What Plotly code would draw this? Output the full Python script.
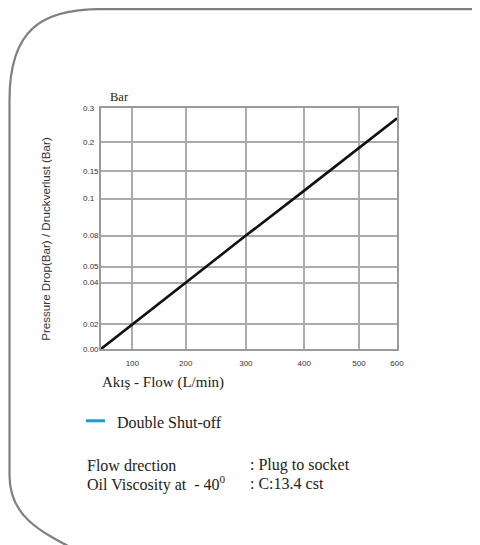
import numpy as np
import plotly.graph_objects as go

# ---- data ----
FLOW = [0, 100, 200, 300, 400, 500, 600]            # L/min
PRESSURE_DROP = [0.0, 0.02, 0.04, 0.08, 0.115, 0.19, 0.27]  # bar
SERIES_NAME = "Double Shut-off"

X_TICK_VALUES = [100, 200, 300, 400, 500, 600]
X_TICK_LABELS = ["100", "200", "300", "400", "500", "600"]
Y_TICK_VALUES = [0.0, 0.02, 0.04, 0.05, 0.08, 0.1, 0.15, 0.2, 0.3]
Y_TICK_LABELS = ["0.00", "0.02", "0.04", "0.05", "0.08", "0.1", "0.15", "0.2", "0.3"]

# ---- piecewise axis calibration of the original (non-uniform) scales ----
X_SCALE_VALS = [0, 100, 200, 300, 400, 500, 600]
X_SCALE_POS = [0, 31.3, 84.7, 144.7, 203, 257.7, 295.7]
Y_SCALE_POS = [0, 24.7, 66.3, 82.3, 113.3, 150, 177.3, 206.3, 240.7]


def xs(v):
    return np.interp(v, X_SCALE_VALS, X_SCALE_POS)


def ys(v):
    return np.interp(v, Y_TICK_VALUES, Y_SCALE_POS)


W, H = 480, 545
OFF = 8  # page body margin
L, R, T, B = 101 - OFF, 396.7 - OFF, 108.3 - OFF, 349 - OFF


def px(x):
    return (x - OFF - L) / (R - L)


def py(y):
    return (B - (y - OFF)) / (B - T)


fig = go.Figure()
fig.add_trace(go.Scatter(
    x=xs(FLOW), y=ys(PRESSURE_DROP), mode="lines", name=SERIES_NAME,
    line=dict(color="#111111", width=2.6), showlegend=False, cliponaxis=False,
))

TEXT_FONT = "Liberation Serif"
TXT = "#222222"
ann = []
# y tick labels (left-aligned as in the original)
for v, lab in zip(Y_TICK_VALUES, Y_TICK_LABELS):
    ann.append(dict(x=px(81), xref="paper", y=ys(v), yref="y", text=lab,
                    showarrow=False, xanchor="left", yanchor="middle",
                    font=dict(family="Liberation Sans", size=8, color="#333333")))
ann.append(dict(x=px(107.5), y=py(97.5), xref="paper", yref="paper", text="Bar",
                showarrow=False, xanchor="left", yanchor="middle",
                font=dict(family=TEXT_FONT, size=12.5, color=TXT)))
ann.append(dict(x=px(100.5), y=py(382), xref="paper", yref="paper", text="Akış - Flow (L/min)",
                showarrow=False, xanchor="left", yanchor="middle",
                font=dict(family=TEXT_FONT, size=15, color=TXT)))
ann.append(dict(x=px(46), y=py(239), xref="paper", yref="paper",
                text="Pressure Drop(Bar) / Druckverlust (Bar)", textangle=-90,
                showarrow=False, xanchor="center", yanchor="middle",
                font=dict(family="Liberation Sans", size=11.6, color="#333333")))
ann.append(dict(x=px(114.5), y=py(422.5), xref="paper", yref="paper", text=SERIES_NAME,
                showarrow=False, xanchor="left", yanchor="middle",
                font=dict(family=TEXT_FONT, size=16, color=TXT)))
for (lx, ly, t) in [(85, 465, "Flow drection"), (248, 465, ": Plug to socket"),
                    (85, 483, "Oil Viscosity at &nbsp;- 40<sup>0</sup>"), (248, 483, ": C:13.4 cst")]:
    ann.append(dict(x=px(lx), y=py(ly), xref="paper", yref="paper", text=t,
                    showarrow=False, xanchor="left", yanchor="middle",
                    font=dict(family=TEXT_FONT, size=16, color=TXT)))

# frame path (rounded panel border)
pts = lambda x, y: f"{px(x):.5f},{py(y):.5f}"
FX = 9.6  # left edge of the panel border (kept inside the drawable page)
frame = (f"M{pts(80, 552)} C{pts(37, 530)} {pts(FX, 515)} {pts(FX, 475)} "
         f"L{pts(FX, 100)} C{pts(FX, 30)} {pts(42, 9.5)} {pts(100, 9.5)} L{pts(495, 9.5)}")
shapes = [
    dict(type="path", xref="paper", yref="paper", path=frame,
         line=dict(color="#808080", width=2.2), layer="above"),
    dict(type="line", xref="paper", yref="paper", x0=px(86), x1=px(105), y0=py(420.7), y1=py(420.7),
         line=dict(color="#1e9ad6", width=3)),
]

fig.update_layout(
    width=W, height=H, margin=dict(l=L, r=W - R, t=T, b=H - B),
    paper_bgcolor="white", plot_bgcolor="white",
    annotations=ann, shapes=shapes, showlegend=False,
    xaxis=dict(range=[0, X_SCALE_POS[-1]], tickvals=list(xs(X_TICK_VALUES)), ticktext=X_TICK_LABELS,
               showgrid=True, gridcolor="#ababab", gridwidth=1.5, zeroline=False,
               showline=True, mirror=True, linecolor="#9a9a9a", linewidth=2,
               ticks="outside", ticklen=5, tickcolor="rgba(0,0,0,0)",
               tickfont=dict(family="Liberation Sans", size=8, color="#333333")),
    yaxis=dict(range=[0, Y_SCALE_POS[-1]], tickvals=list(ys(Y_TICK_VALUES)), showticklabels=False,
               showgrid=True, gridcolor="#ababab", gridwidth=1.5, zeroline=False,
               showline=True, mirror=True, linecolor="#9a9a9a", linewidth=2, ticks=""),
)

fig.write_html("out.html")
